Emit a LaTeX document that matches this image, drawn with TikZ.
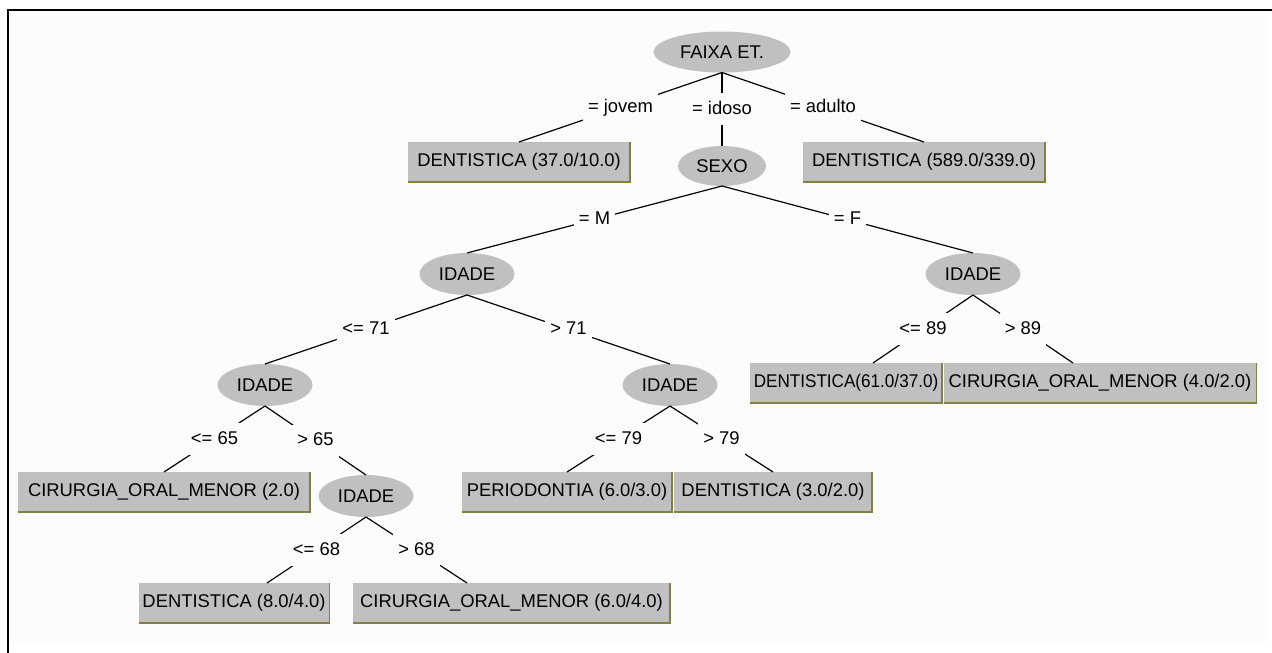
\documentclass[tikz,border=0pt]{standalone}
\usepackage{fontspec}
\setmainfont{Liberation Sans}
\usetikzlibrary{shapes.geometric}
\definecolor{nodegray}{RGB}{192,192,192}
\definecolor{boxedge}{RGB}{128,128,64}
\definecolor{bg}{RGB}{252,252,252}
\begin{document}
\begin{tikzpicture}[x=1pt,y=-1pt,
  every node/.style={font=\fontsize{18.4}{22}\selectfont},
  testnode/.style={ellipse, fill=nodegray, inner sep=0pt, outer sep=0pt, minimum width=95pt, minimum height=42pt},
  leafbox/.style={rectangle, fill=nodegray, inner sep=0pt, outer sep=0pt, minimum height=40pt},
  branchlbl/.style={fill=bg, inner xsep=5pt, inner ysep=7pt, text height=14pt, text depth=4pt},
  branch/.style={line width=1.2pt},
  boxshade/.style={draw=boxedge, line width=1.5pt},
  border/.style={line width=2.5pt}]
\useasboundingbox (0,0) rectangle (1272,653);
\fill[bg] (9,11) rectangle (1270,642);
\draw[border] (8,653) -- (8,10) -- (1272,10);

\node[testnode, minimum width=137pt, minimum height=41pt] (faixa) at (722,52) {FAIXA ET.};
\node[leafbox, minimum width=222pt] (d37) at (519,162) {DENTISTICA (37.0/10.0)};
\node[testnode, minimum width=88pt, minimum height=40pt] (sexo) at (722,166) {SEXO};
\node[leafbox, minimum width=242pt] (d589) at (924,162) {DENTISTICA (589.0/339.0)};
\node[testnode] (id1) at (467,274) {IDADE};
\node[testnode] (id2) at (973,274) {IDADE};
\node[leafbox, minimum width=192pt] (d61) at (846,383) {\scalebox{0.93}[1]{DENTISTICA(61.0/37.0)}};
\node[leafbox, minimum width=313pt] (c4) at (1100,383) {CIRURGIA\_ORAL\_MENOR (4.0/2.0)};
\node[testnode] (id3) at (265,385) {IDADE};
\node[testnode] (id4) at (670,385) {IDADE};
\node[leafbox, minimum width=292pt] (c2) at (164,492) {CIRURGIA\_ORAL\_MENOR (2.0)};
\node[testnode] (id5) at (366,496) {IDADE};
\node[leafbox, minimum width=210pt] (p6) at (567,492) {PERIODONTIA (6.0/3.0)};
\node[leafbox, minimum width=198pt] (d3) at (773,492) {DENTISTICA (3.0/2.0)};
\node[leafbox, minimum width=191pt] (d8) at (234,603) {DENTISTICA (8.0/4.0)};
\node[leafbox, minimum width=317pt] (c6) at (511.5,603) {CIRURGIA\_ORAL\_MENOR (6.0/4.0)};

\foreach \n in {d37,d589,d61,c4,c2,p6,d3,d8,c6}
  \draw[boxshade] (\n.south west) -- (\n.south east) -- (\n.north east);

\draw[branch] (faixa.south) -- node[branchlbl]{= jovem} (d37.north);
\draw[branch] (faixa.south) -- node[branchlbl]{= idoso} (sexo.north);
\draw[branch] (faixa.south) -- node[branchlbl]{= adulto} (d589.north);
\draw[branch] (sexo.south) -- node[branchlbl]{= M} (id1.north);
\draw[branch] (sexo.south) -- node[branchlbl]{= F} (id2.north);
\draw[branch] (id1.south) -- node[branchlbl]{<= 71} (id3.north);
\draw[branch] (id1.south) -- node[branchlbl]{> 71} (id4.north);
\draw[branch] (id2.south) -- node[branchlbl]{<= 89} ([xshift=27pt]d61.north);
\draw[branch] (id2.south) -- node[branchlbl]{> 89} ([xshift=-27pt]c4.north);
\draw[branch] (id3.south) -- node[branchlbl]{<= 65} (c2.north);
\draw[branch] (id3.south) -- node[branchlbl]{> 65} (id5.north);
\draw[branch] (id4.south) -- node[branchlbl]{<= 79} (p6.north);
\draw[branch] (id4.south) -- node[branchlbl]{> 79} (d3.north);
\draw[branch] (id5.south) -- node[branchlbl]{<= 68} ([xshift=33pt]d8.north);
\draw[branch] (id5.south) -- node[branchlbl]{> 68} ([xshift=-44.5pt]c6.north);
\end{tikzpicture}
\end{document}
